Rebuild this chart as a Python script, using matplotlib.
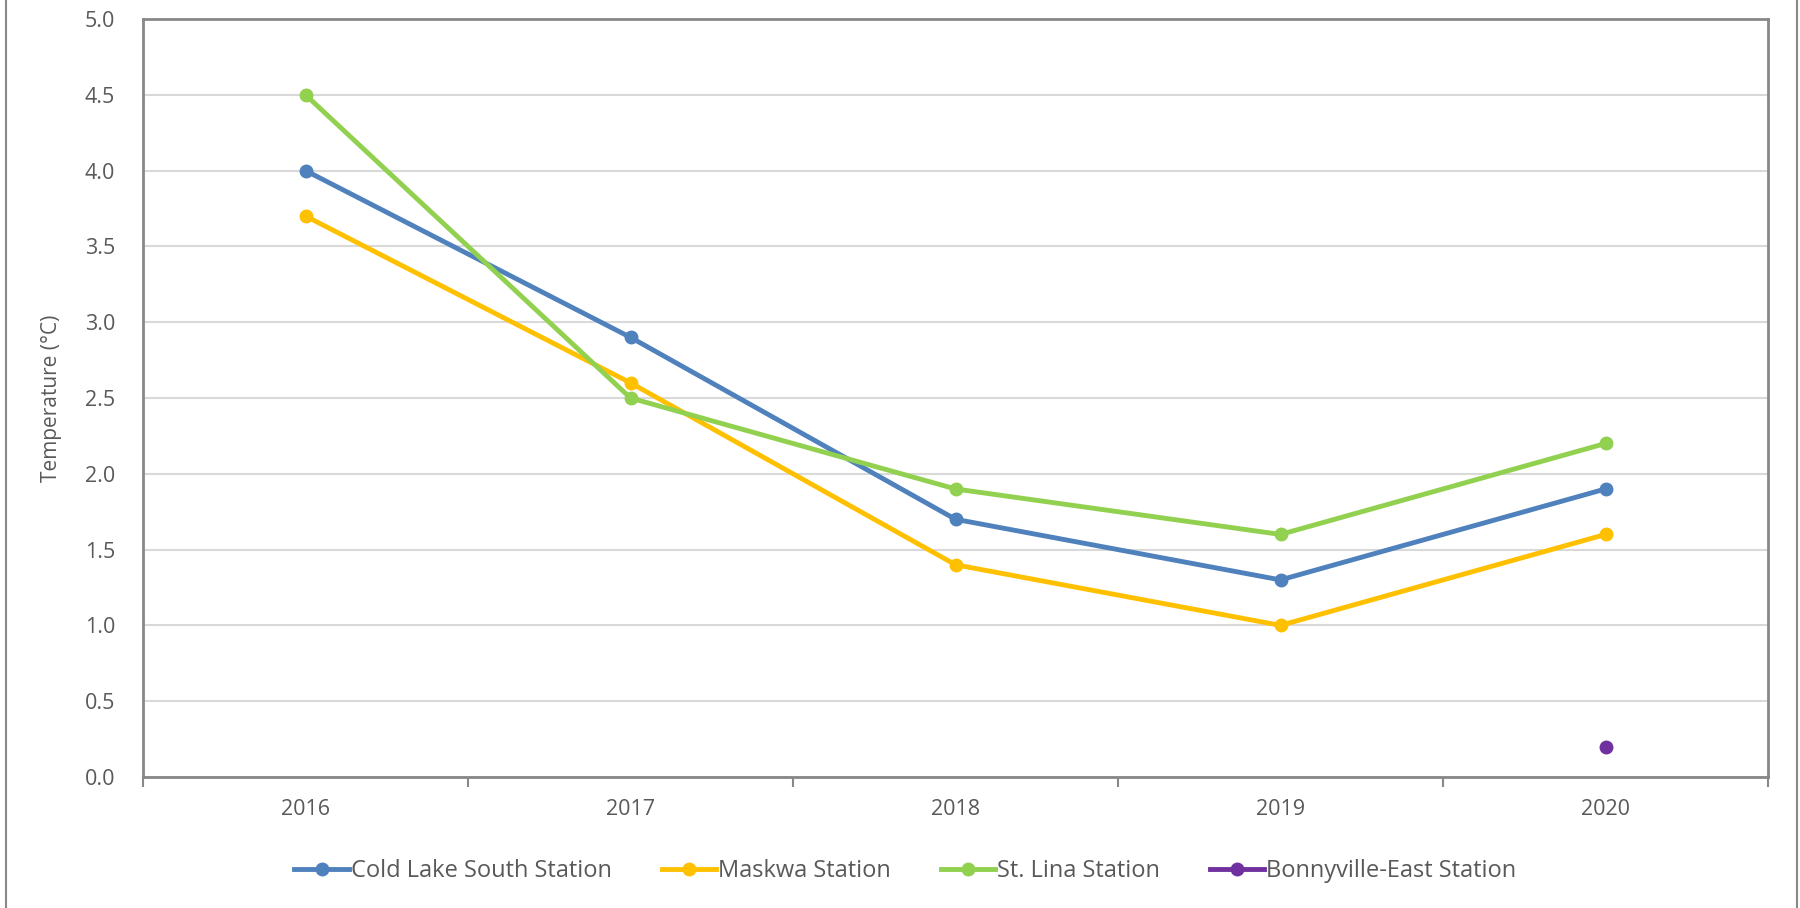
import matplotlib.pyplot as plt
import numpy as np
from matplotlib.patches import Rectangle

plt.rcParams['font.family'] = ['Open Sans', 'DejaVu Sans']

years = ['2016', '2017', '2018', '2019', '2020']
cold_lake = [4.0, 2.9, 1.7, 1.3, 1.9]
maskwa = [3.7, 2.6, 1.4, 1.0, 1.6]
st_lina = [4.5, 2.5, 1.9, 1.6, 2.2]
bonnyville = [np.nan, np.nan, np.nan, np.nan, 0.2]

names = ['Cold Lake South Station', 'Maskwa Station', 'St. Lina Station', 'Bonnyville-East Station']
colors = ['#4F81BD', '#FFC000', '#92D050', '#7030A0']

fig = plt.figure(figsize=(18, 9.08), dpi=100)
ax = fig.add_axes([143/1800, 1-777/908, (1768-143)/1800, (777-19)/908])

x = np.arange(len(years))
for vals, name, c in zip([cold_lake, maskwa, st_lina, bonnyville], names, colors):
    ax.plot(x, vals, color=c, lw=3.5, marker='o', ms=9, label=name)

ax.set_xlim(-0.5, 4.5)
ax.set_ylim(0, 5)
ax.set_yticks(np.arange(0, 5.01, 0.5))
ax.set_yticklabels(['%.1f' % v for v in np.arange(0, 5.01, 0.5)])
ax.set_xticks(x)
ax.set_xticklabels(years)
ax.set_xticks(np.arange(-0.5, 4.6, 1), minor=True)
ax.tick_params(axis='x', which='major', length=0, pad=16)
ax.tick_params(axis='x', which='minor', length=7, width=1.5, color='#888888', direction='out')
ax.tick_params(axis='y', length=0, pad=20)
ax.tick_params(labelsize=15.5, labelcolor='#595959')
ax.grid(axis='y', color='#d9d9d9', lw=1.5)
ax.set_axisbelow(True)
for s in ax.spines.values():
    s.set_color('#888888')
    s.set_linewidth(2)
ax.set_ylabel('Temperature (°C)', fontsize=15, color='#595959', labelpad=16)

# legend centred on the whole chart, not the plot area
ax.legend(loc='center', bbox_to_anchor=(0.503, 0.041), bbox_transform=fig.transFigure,
          ncol=4, frameon=False, fontsize=17, labelcolor='#595959',
          handlelength=2.3, handletextpad=0.1, columnspacing=2.1)

# outer chart border
fig.patches.append(Rectangle((6/1800, -0.01), (1797-6)/1800, 1.02, transform=fig.transFigure,
                             fill=False, edgecolor='#888888', lw=1.5))

fig.savefig('out.png', dpi=100, facecolor='white')
